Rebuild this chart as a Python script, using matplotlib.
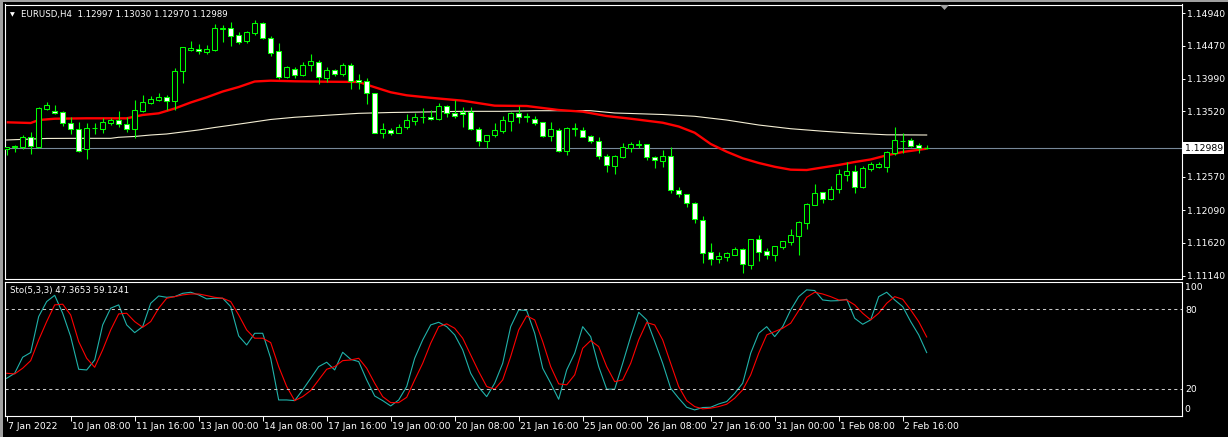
import matplotlib
matplotlib.use("Agg")
import matplotlib.pyplot as plt
from matplotlib.patches import Rectangle, Polygon
from matplotlib.transforms import blended_transform_factory, ScaledTranslation
import numpy as np

# ---------------- data ----------------
symbol_title = "EURUSD,H4  1.12997 1.13030 1.12970 1.12989"
sto_title = "Sto(5,3,3) 47.3653 59.1241"

opens = [
    1.12971, 1.13004, 1.13009, 1.13145, 1.13009, 1.13555, 1.13526, 1.13511, 1.13348, 1.13265,
    1.12971, 1.13275, 1.13261, 1.13356, 1.13395, 1.13333, 1.13261, 1.13530, 1.13646, 1.13689,
    1.13724, 1.13666, 1.14101, 1.14409, 1.14423, 1.14384, 1.14409, 1.14719, 1.14723, 1.14622,
    1.14539, 1.14651, 1.14796, 1.14578, 1.14390, 1.14022, 1.14138, 1.14043, 1.14187, 1.14231,
    1.14008, 1.14115, 1.14057, 1.14192, 1.13975, 1.13960, 1.13782, 1.13211, 1.13251, 1.13211,
    1.13290, 1.13385, 1.13435, 1.13435, 1.13406, 1.13594, 1.13492, 1.13516, 1.13507, 1.13261,
    1.13096, 1.13174, 1.13241, 1.13385, 1.13492, 1.13449, 1.13414, 1.13362, 1.13168, 1.13246,
    1.12951, 1.13265, 1.13246, 1.13164, 1.13087, 1.12870, 1.12734, 1.12864, 1.12994, 1.13038,
    1.13043, 1.12855, 1.12806, 1.12874, 1.12378, 1.12320, 1.12189, 1.11943, 1.11480, 1.11378,
    1.11416, 1.11445, 1.11523, 1.11300, 1.11668, 1.11499, 1.11445, 1.11561, 1.11633, 1.11720,
    1.11908, 1.12169, 1.12349, 1.12247, 1.12392, 1.12603, 1.12653, 1.12425, 1.12690, 1.12719,
    1.12719, 1.12913, 1.13091, 1.13101, 1.13033, 1.12997]

highs = [
    1.13009, 1.13038, 1.13174, 1.13222, 1.13579, 1.13656, 1.13613, 1.13526, 1.13435, 1.13362,
    1.13348, 1.13348, 1.13429, 1.13429, 1.13530, 1.13435, 1.13685, 1.13753, 1.13743, 1.13782,
    1.13753, 1.14153, 1.14455, 1.14535, 1.14496, 1.14477, 1.14786, 1.14771, 1.14819, 1.14665,
    1.14689, 1.14843, 1.14810, 1.14612, 1.14506, 1.14177, 1.14167, 1.14231, 1.14351, 1.14264,
    1.14159, 1.14130, 1.14216, 1.14216, 1.14062, 1.14004, 1.13786, 1.13348, 1.13275, 1.13338,
    1.13478, 1.13501, 1.13565, 1.13540, 1.13646, 1.13613, 1.13685, 1.13579, 1.13579, 1.13290,
    1.13180, 1.13352, 1.13453, 1.13516, 1.13598, 1.13501, 1.13449, 1.13371, 1.13371, 1.13275,
    1.13294, 1.13352, 1.13294, 1.13178, 1.13149, 1.12903, 1.12884, 1.13062, 1.13077, 1.13106,
    1.13052, 1.12870, 1.12961, 1.13009, 1.12421, 1.12325, 1.12204, 1.12005, 1.11610, 1.11480,
    1.11484, 1.11552, 1.11542, 1.11675, 1.11730, 1.11542, 1.11572, 1.11645, 1.11817, 1.11933,
    1.12194, 1.12469, 1.12353, 1.12440, 1.12682, 1.12787, 1.12744, 1.12729, 1.12783, 1.12783,
    1.12951, 1.13294, 1.13203, 1.13135, 1.13058, 1.13030]

lows = [
    1.12889, 1.12936, 1.12971, 1.12903, 1.12986, 1.13540, 1.13482, 1.13309, 1.13193, 1.12936,
    1.12835, 1.13193, 1.13211, 1.13323, 1.13290, 1.13226, 1.13130, 1.13516, 1.13631, 1.13671,
    1.13540, 1.13540, 1.13936, 1.14390, 1.14355, 1.14355, 1.14390, 1.14529, 1.14471, 1.14496,
    1.14506, 1.14622, 1.14570, 1.14322, 1.13985, 1.13999, 1.13999, 1.14037, 1.14109, 1.13912,
    1.13950, 1.14037, 1.14037, 1.13849, 1.13849, 1.13623, 1.13203, 1.13139, 1.13174, 1.13203,
    1.13261, 1.13323, 1.13356, 1.13395, 1.13395, 1.13443, 1.13429, 1.13298, 1.13251, 1.13023,
    1.12990, 1.13145, 1.13211, 1.13241, 1.13356, 1.13371, 1.13319, 1.13154, 1.13096, 1.12932,
    1.12893, 1.13168, 1.13145, 1.13062, 1.12835, 1.12647, 1.12618, 1.12845, 1.12932, 1.12994,
    1.12821, 1.12705, 1.12719, 1.12343, 1.12285, 1.12140, 1.11908, 1.11329, 1.11296, 1.11329,
    1.11358, 1.11436, 1.11184, 1.11234, 1.11354, 1.11378, 1.11358, 1.11532, 1.11585, 1.11445,
    1.11821, 1.12169, 1.12198, 1.12240, 1.12334, 1.12517, 1.12334, 1.12411, 1.12657, 1.12696,
    1.12647, 1.12889, 1.12913, 1.13009, 1.12922, 1.12970]

closes = [
    1.13000, 1.13019, 1.13145, 1.13019, 1.13565, 1.13608, 1.13492, 1.13348, 1.13261, 1.12951,
    1.13275, 1.13284, 1.13366, 1.13395, 1.13333, 1.13261, 1.13540, 1.13652, 1.13700, 1.13724,
    1.13666, 1.14101, 1.14448, 1.14438, 1.14390, 1.14419, 1.14723, 1.14723, 1.14616, 1.14529,
    1.14665, 1.14796, 1.14578, 1.14370, 1.14014, 1.14159, 1.14047, 1.14187, 1.14250, 1.14014,
    1.14119, 1.14057, 1.14192, 1.13965, 1.13941, 1.13782, 1.13211, 1.13265, 1.13211, 1.13294,
    1.13395, 1.13435, 1.13439, 1.13414, 1.13594, 1.13492, 1.13458, 1.13478, 1.13261, 1.13096,
    1.13174, 1.13246, 1.13391, 1.13492, 1.13443, 1.13439, 1.13356, 1.13168, 1.13261, 1.12942,
    1.13275, 1.13275, 1.13154, 1.13096, 1.12870, 1.12748, 1.12870, 1.13000, 1.13043, 1.13043,
    1.12855, 1.12812, 1.12874, 1.12382, 1.12320, 1.12189, 1.11958, 1.11474, 1.11378, 1.11426,
    1.11465, 1.11528, 1.11306, 1.11668, 1.11488, 1.11445, 1.11567, 1.11639, 1.11726, 1.11914,
    1.12175, 1.12334, 1.12247, 1.12392, 1.12614, 1.12653, 1.12430, 1.12696, 1.12758, 1.12758,
    1.12928, 1.13101, 1.13096, 1.13023, 1.12994, 1.12989]

# red moving average (sampled at bar indices)
ma_red_idx = [0, 3, 4, 6, 10, 15, 17, 19, 21, 23, 25, 27, 29, 31, 33, 36, 40, 44, 46, 48,
              50, 53, 57, 61, 65, 69, 72, 75, 78, 82, 84, 86, 88, 90, 92, 94, 96, 98, 100,
              102, 104, 106, 108, 110, 112, 115]
ma_red_val = [1.13362, 1.13352, 1.13395, 1.13414, 1.13420, 1.13420, 1.13468, 1.13492, 1.13562,
              1.13649, 1.13724, 1.13808, 1.13873, 1.13953, 1.13965, 1.13956, 1.13950, 1.13946,
              1.13870, 1.13797, 1.13753, 1.13717, 1.13675, 1.13603, 1.13598, 1.13540, 1.13516,
              1.13453, 1.13414, 1.13356, 1.13301, 1.13211, 1.13048, 1.12936, 1.12841, 1.12773,
              1.12718, 1.12676, 1.12671, 1.12708, 1.12744, 1.12787, 1.12824, 1.12884, 1.12932,
              1.12980]

# white (slow) moving average
ma_white_idx = [0, 5, 9, 13, 14, 16, 18, 20, 22, 24, 26, 28, 30, 33, 36, 40, 44, 48, 52, 57,
                62, 66, 73, 76, 82, 86, 90, 94, 98, 102, 106, 110, 115]
ma_white_val = [1.13106, 1.13128, 1.13130, 1.13130, 1.13145, 1.13157, 1.13178, 1.13193, 1.13222,
                1.13251, 1.13287, 1.13319, 1.13352, 1.13403, 1.13435, 1.13464, 1.13492, 1.13504,
                1.13511, 1.13521, 1.13521, 1.13530, 1.13530, 1.13497, 1.13475, 1.13449, 1.13395,
                1.13323, 1.13269, 1.13233, 1.13203, 1.13181, 1.13178]

# stochastic %K and %D
sto_k = [
    28.0, 31.8, 43.9, 47.4, 74.5, 85.8, 90.5, 77.0, 59.4, 34.8,
    34.3, 41.8, 68.2, 80.8, 83.3, 68.2, 62.4, 66.9, 84.5, 90.0,
    89.0, 89.5, 92.0, 92.8, 90.8, 87.8, 88.3, 88.3, 82.0, 59.9,
    53.1, 61.9, 61.9, 43.1, 11.7, 11.7, 11.2, 19.3, 28.0, 36.8,
    40.1, 34.3, 47.6, 42.3, 40.6, 26.8, 14.7, 11.2, 7.2, 11.7,
    21.8, 43.1, 56.9, 68.2, 70.2, 66.9, 60.7, 49.4, 31.8, 21.3,
    14.2, 24.3, 39.3, 66.9, 79.5, 79.0, 61.9, 35.6, 24.3, 12.2,
    34.3, 46.9, 66.9, 59.4, 36.8, 19.8, 19.8, 39.3, 59.4, 77.7,
    72.0, 55.7, 39.3, 20.5, 13.0, 6.2, 4.2, 6.0, 6.2, 8.7,
    10.5, 16.7, 24.3, 46.9, 61.9, 66.9, 59.4, 66.9, 79.5, 89.5,
    94.6, 94.1, 87.0, 86.3, 86.5, 87.5, 73.2, 68.7, 72.0, 89.5,
    92.8, 87.0, 82.0, 70.7, 60.7, 47.3653]

sto_d = [
    31.8, 31.3, 35.6, 41.3, 56.9, 70.7, 83.3, 83.8, 75.7, 55.7,
    43.1, 36.3, 49.4, 64.4, 76.5, 77.0, 70.7, 66.4, 70.7, 80.8,
    88.3, 89.5, 90.8, 91.5, 91.5, 90.3, 89.0, 88.3, 85.8, 75.7,
    64.4, 58.2, 58.2, 54.9, 36.8, 21.8, 11.2, 14.2, 18.8, 26.8,
    34.8, 36.8, 41.3, 41.8, 43.1, 35.6, 24.3, 14.2, 9.7, 9.7,
    13.7, 26.8, 39.3, 54.4, 66.9, 69.0, 65.7, 58.2, 45.6, 33.1,
    21.8, 19.8, 26.8, 44.4, 64.4, 75.0, 72.0, 55.7, 36.8, 23.8,
    23.1, 30.6, 50.6, 56.4, 51.9, 36.8, 25.5, 26.8, 39.3, 56.9,
    70.0, 68.2, 56.9, 39.3, 21.8, 11.2, 6.7, 5.0, 5.5, 6.7,
    8.5, 13.0, 19.3, 30.6, 46.9, 60.7, 63.2, 65.7, 69.5, 79.0,
    89.0, 92.8, 91.5, 89.5, 87.0, 87.0, 83.3, 77.0, 72.0, 77.0,
    84.5, 89.5, 87.5, 79.5, 70.7, 59.1241]

price_ticks = [1.14940, 1.14470, 1.13990, 1.13520, 1.13050, 1.12570, 1.12090, 1.11620, 1.11140]
sto_levels = [80, 20]
time_tick_idx = [0, 8, 16, 24, 32, 40, 48, 56, 64, 72, 80, 88, 96, 104, 112]
time_tick_labels = ["7 Jan 2022", "10 Jan 08:00", "11 Jan 16:00", "13 Jan 00:00", "14 Jan 08:00",
                    "17 Jan 16:00", "19 Jan 00:00", "20 Jan 08:00", "21 Jan 16:00", "25 Jan 00:00",
                    "26 Jan 08:00", "27 Jan 16:00", "31 Jan 00:00", "1 Feb 08:00", "2 Feb 16:00"]

# ---------------- figure ----------------
W, H = 1228, 437
FS = 6.7
plt.rcParams['font.family'] = ['DejaVu Sans']
fig = plt.figure(figsize=(W / 100, H / 100), dpi=100, facecolor='black')


def frac(x0, y0, x1, y1):
    return [x0 / W, 1 - y1 / H, (x1 - x0) / W, (y1 - y0) / H]


ax = fig.add_axes(frac(5, 4.5, 1181.5, 278.5))
ax2 = fig.add_axes(frac(5, 281.5, 1181.5, 415.5))

GREEN = '#00FF00'
for a in (ax, ax2):
    a.set_facecolor('black')
    for s in a.spines.values():
        s.set_color('white')
        s.set_linewidth(0.8)
    a.set_xlim(-0.21, 146.85)

x = np.arange(len(closes))
o = np.array(opens)
c = np.array(closes)
hi = np.array(highs)
lo = np.array(lows)

# wicks
ax.vlines(x, lo, hi, color=GREEN, linewidth=0.8, zorder=3)
# bodies
bottom = np.minimum(o, c)
height = np.maximum(np.abs(c - o), 0.00002)
fills = ['white' if cc < oo else 'black' for oo, cc in zip(o, c)]
ax.bar(x, height, bottom=bottom, width=0.55, color=fills, edgecolor=GREEN,
       linewidth=0.75, zorder=4)

# moving averages
ax.plot(ma_white_idx, ma_white_val, color='#F5EFD5', linewidth=0.8, zorder=2)
ax.plot(ma_red_idx, ma_red_val, color='#FF0000', linewidth=1.7, zorder=2.5,
        solid_capstyle='butt')

# current price line
ax.axhline(closes[-1], color='#778899', linewidth=0.8, zorder=1)

ax.set_ylim(1.11100, 1.15068)
ax.yaxis.tick_right()
ax.set_yticks(price_ticks)
# the 1.13050 label is hidden behind the current-price box in the reference
ax.set_yticklabels(["" if abs(v - 1.13050) < 1e-9 else f"{v:.5f}" for v in price_ticks])
ax.tick_params(axis='y', colors='white', direction='out', length=2.5, width=0.7,
               pad=1.5, labelsize=FS)
ax.set_xticks([])

# current price label
tr = blended_transform_factory(ax.transAxes, ax.transData)
ax.text(1.0, closes[-1], f"{closes[-1]:.5f}",
        transform=tr + ScaledTranslation(3 / 100, 0, fig.dpi_scale_trans),
        va='center', ha='left', fontsize=FS, color='black', clip_on=False, zorder=10,
        bbox=dict(boxstyle='square,pad=0.18', fc='white', ec='none'))

# titles
ax.text(0.0045, 0.962, "\u25BC", transform=ax.transAxes, fontsize=4.5, color='white',
        va='center', ha='left')
ax.text(0.0135, 0.962, symbol_title, transform=ax.transAxes, fontsize=6.2, color='white',
        va='center', ha='left')

# stochastic
ax2.plot(x, sto_k, color='#20B2AA', linewidth=0.8)
ax2.plot(x, sto_d, color='#FF0000', linewidth=0.8)
for lv in sto_levels:
    ax2.axhline(lv, color='#C8C8C8', linewidth=0.75, linestyle=(0, (3, 3)))
ax2.set_ylim(0, 100.9)
ax2.yaxis.tick_right()
ax2.set_yticks(sto_levels)
ax2.set_yticklabels([str(v) for v in sto_levels])
ax2.tick_params(axis='y', colors='white', length=0, pad=3, labelsize=FS)
tr2 = blended_transform_factory(ax2.transAxes, ax2.transAxes)
ax2.text(1.0, 1.0, "100", transform=tr2 + ScaledTranslation(3 / 100, -2 / 100, fig.dpi_scale_trans),
         va='top', ha='left', fontsize=FS, color='white', clip_on=False)
ax2.text(1.0, 0.0, "0", transform=tr2 + ScaledTranslation(3 / 100, 2 / 100, fig.dpi_scale_trans),
         va='bottom', ha='left', fontsize=FS, color='white', clip_on=False)
ax2.text(0.0045, 0.935, sto_title, transform=ax2.transAxes, fontsize=6.2, color='white',
         va='center', ha='left')

ax2.set_xticks(time_tick_idx)
ax2.set_xticklabels(time_tick_labels)
ax2.tick_params(axis='x', colors='white', direction='out', length=3.5, width=0.7,
                pad=1.5, labelsize=FS)
for lbl in ax2.get_xticklabels():
    lbl.set_horizontalalignment('left')
    lbl.set_transform(lbl.get_transform() + ScaledTranslation(1 / 100, 0, fig.dpi_scale_trans))

# window frame decorations
fig.patches.append(Rectangle((0, 1 - 1.5 / H), 1, 1.5 / H, transform=fig.transFigure,
                             facecolor='#A0A0A0', edgecolor='none'))
fig.patches.append(Rectangle((0, 0), 2.5 / W, 1, transform=fig.transFigure,
                             facecolor='#A0A0A0', edgecolor='none'))
fig.patches.append(Polygon([(940 / W, 1 - 5 / H), (949 / W, 1 - 5 / H), (944.5 / W, 1 - 10 / H)],
                           closed=True, transform=fig.transFigure,
                           facecolor='#A0A0A0', edgecolor='none'))

fig.savefig("out.png", dpi=100, facecolor='black')
